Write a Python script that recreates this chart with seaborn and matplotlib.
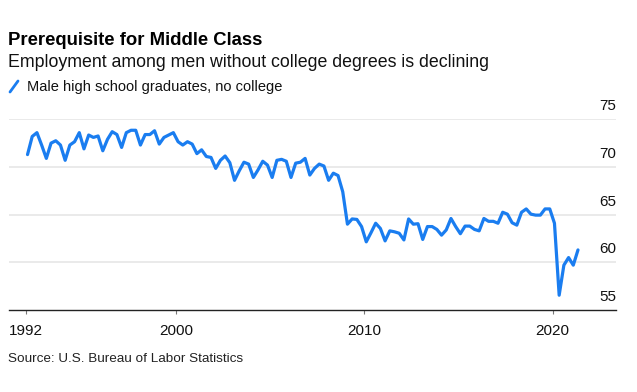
import numpy as np
import pandas as pd
import matplotlib
matplotlib.use("Agg")
import matplotlib.pyplot as plt
import matplotlib.transforms as mtransforms
from matplotlib.lines import Line2D
import seaborn as sns

# ---- text ----
title = "Prerequisite for Middle Class"
subtitle = "Employment among men without college degrees is declining"
series_label = "Male high school graduates, no college"
source = "Source: U.S. Bureau of Labor Statistics"

# ---- data (quarterly, starting 1992Q1) ----
first_quarter = "1992Q1"
values = [
    71.3, 73.2, 73.6, 72.3, 70.9, 72.5, 72.75, 72.3,      # 1992-1993
    70.7, 72.3, 72.65, 73.6, 71.9, 73.35, 73.1, 73.25,    # 1994-1995
    71.7, 72.9, 73.7, 73.4, 72.05, 73.6, 73.85, 73.85,    # 1996-1997
    72.3, 73.4, 73.4, 73.8, 72.4, 73.1, 73.35, 73.6,      # 1998-1999
    72.65, 72.3, 72.65, 72.4, 71.4, 71.8, 71.1, 71.0,     # 2000-2001
    69.85, 70.7, 71.15, 70.45, 68.6, 69.6, 70.5, 70.3,    # 2002-2003
    68.9, 69.7, 70.6, 70.2, 68.9, 70.7, 70.8, 70.6,       # 2004-2005
    68.9, 70.4, 70.5, 70.9, 69.15, 69.85, 70.3, 70.1,     # 2006-2007
    68.6, 69.35, 69.1, 67.4, 64.0, 64.55, 64.5, 63.75,    # 2008-2009
    62.15, 63.1, 64.1, 63.55, 62.25, 63.3, 63.2, 63.05,   # 2010-2011
    62.35, 64.55, 64.0, 64.05, 62.4, 63.75, 63.75, 63.45, # 2012-2013
    62.85, 63.4, 64.6, 63.75, 63.0, 63.8, 63.8, 63.45,    # 2014-2015
    63.3, 64.6, 64.3, 64.3, 64.1, 65.25, 65.05, 64.15,    # 2016-2017
    63.9, 65.25, 65.6, 65.05, 64.95, 64.95, 65.6, 65.6,   # 2018-2019
    64.1, 56.55, 59.7, 60.5, 59.7, 61.3,                  # 2020-2021
]
x_ticks = [1992, 2000, 2010, 2020]
y_ticks = [55, 60, 65, 70, 75]

periods = pd.period_range(first_quarter, periods=len(values), freq="Q")
t = periods.year + (periods.quarter - 1) / 4 + 0.1
df = pd.DataFrame({"t": np.asarray(t, dtype=float), "value": values})

BLUE = "#1a7df0"
W, H = 637, 392

sns.set_theme(style="white")
plt.rcParams["font.family"] = ["Liberation Sans", "DejaVu Sans"]

fig = plt.figure(figsize=(W / 100, H / 100), dpi=100)
fig.patch.set_facecolor("white")
ax = fig.add_axes([9 / W, 1 - 310 / H, (616 - 9) / W, (310 - 119.3) / H])
ax.set_facecolor("white")

for v in y_ticks[1:]:
    ax.axhline(v, color="#e8e8e8", lw=1.3, zorder=0)

sns.lineplot(data=df, x="t", y="value", ax=ax, color=BLUE, linewidth=2.3,
             legend=False, zorder=3)

ax.set_xlim(1991.116, 2023.37)
ax.set_ylim(55, 75)
ax.set_xlabel("")
ax.set_ylabel("")

for s in ["top", "right", "left"]:
    ax.spines[s].set_visible(False)
ax.spines["bottom"].set_color("#222222")
ax.spines["bottom"].set_linewidth(1.0)

ax.set_xticks(x_ticks)
ax.set_xticklabels([str(x) for x in x_ticks])
ax.tick_params(axis="x", bottom=True, length=3, width=0.8, color="#777777",
               pad=7, labelsize=11, labelcolor="#111111")
ax.set_yticks([])

ytrans = mtransforms.offset_copy(ax.get_yaxis_transform(), fig=fig,
                                 x=0, y=9, units="dots")
for v in y_ticks:
    ax.text(1.0, v, str(v), transform=ytrans, ha="right", va="baseline",
            fontsize=11, color="#111111")

fig.text(8 / W, 1 - 45 / H, title, fontsize=13.3, fontweight="bold",
         va="baseline", color="#000000")
fig.text(8 / W, 1 - 67 / H, subtitle, fontsize=12.8, va="baseline",
         color="#111111")
fig.add_artist(Line2D([10 / W, 18 / W], [1 - 92 / H, 1 - 81 / H],
                      transform=fig.transFigure, color=BLUE, lw=2.0))
fig.text(27 / W, 1 - 91 / H, series_label, fontsize=10.5, va="baseline",
         color="#111111")
fig.text(8 / W, 1 - 362 / H, source, fontsize=9.7, va="baseline",
         color="#222222")

fig.savefig("out.png", dpi=100, facecolor="white")
